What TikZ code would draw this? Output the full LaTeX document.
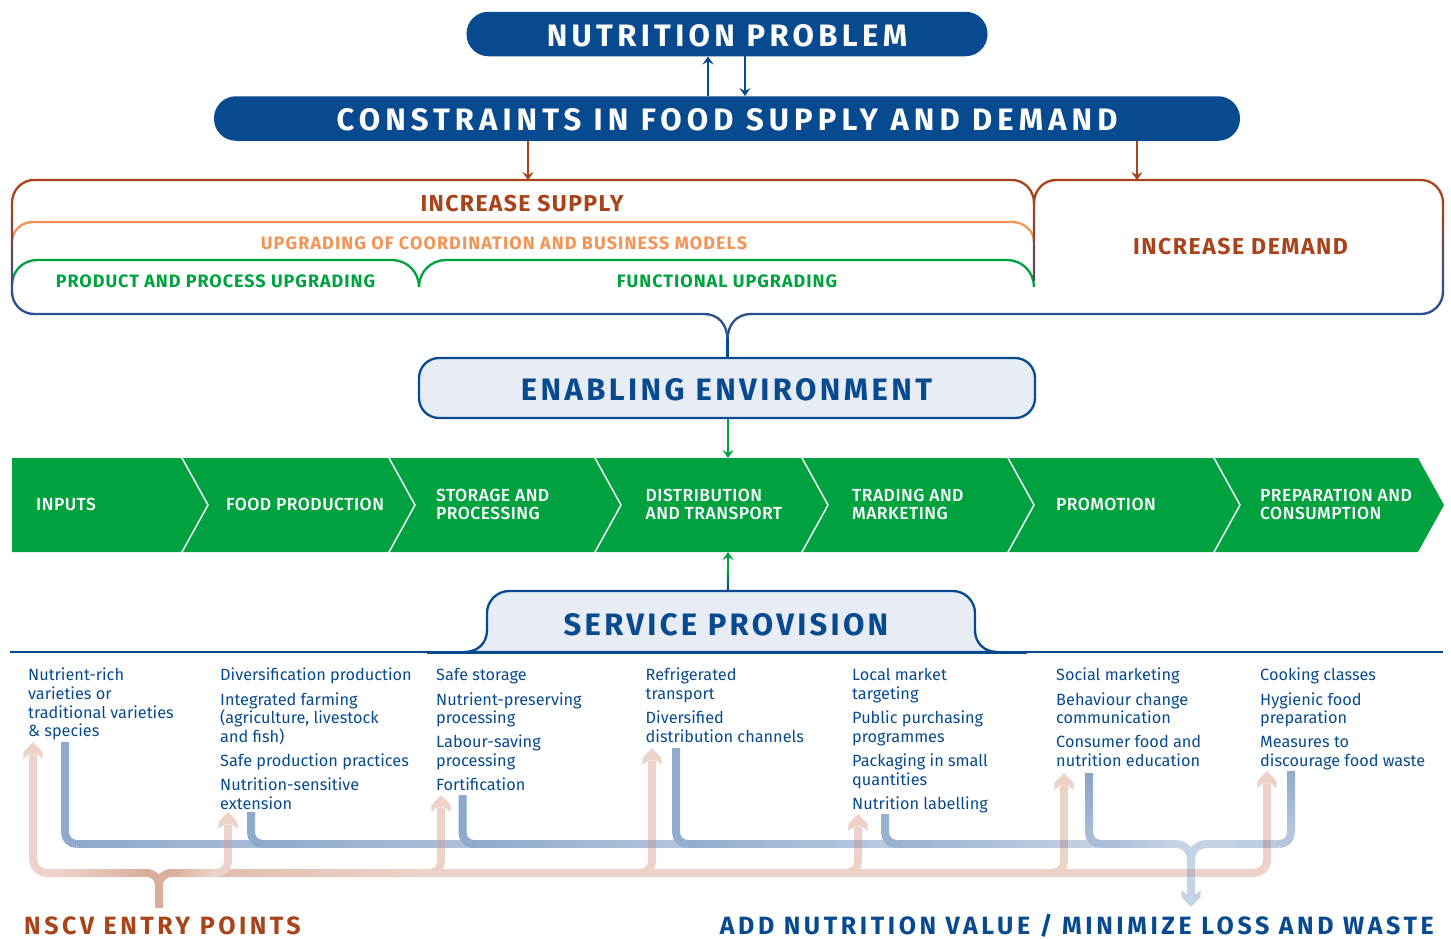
\documentclass[tikz,border=0pt]{standalone}
\usepackage{fontspec}
\setmainfont{Fira Sans}
\newfontfamily\stagefont{Fira Sans Medium}
\usetikzlibrary{arrows.meta,calc}
\definecolor{navy}{HTML}{074A8F}
\definecolor{band}{HTML}{00A13F}
\definecolor{rust}{HTML}{A8431A}
\definecolor{peach}{HTML}{F39455}
\definecolor{panel}{HTML}{E7ECF5}
\definecolor{framenavy}{HTML}{2A4F8F}
\definecolor{pinkpale}{HTML}{ECD2C8}
\definecolor{pinkdark}{HTML}{D9AE9C}
\definecolor{bluepale}{HTML}{C6D3E4}
\definecolor{crossc}{HTML}{B8ADB8}
\definecolor{bluea}{RGB}{141,169,203}
\definecolor{blueb}{RGB}{169,188,215}
\definecolor{bluec}{RGB}{143,171,204}
\definecolor{blued}{RGB}{174,191,217}
\definecolor{bluee}{RGB}{180,196,220}
\definecolor{bluef}{RGB}{147,173,206}
\definecolor{blueg}{RGB}{186,202,224}
\definecolor{blueh}{RGB}{154,178,209}
\definecolor{bluei}{RGB}{135,164,200}
\definecolor{bluej}{RGB}{184,199,221}
\newcommand{\headfont}[2]{\fontsize{#1}{#1}\selectfont\bfseries\addfontfeature{LetterSpace=#2}}
\tikzset{
  x=1pt,y=-1pt,
  pill/.style={fill=navy,rounded corners=22pt,minimum height=44.5pt,inner sep=0pt},
  panelbox/.style={fill=panel,draw=navy,line width=2.3pt,rounded corners=20pt,inner sep=0pt},
  label/.style={inner sep=0pt,anchor=base},
  thinarrow/.style={line width=2.3pt,-{Stealth[length=8pt,width=11pt,inset=3pt]}},
  frameline/.style={line width=2.3pt},
  stage/.style={inner sep=0pt,anchor=west,align=left,text=white,font=\stagefont\fontsize{17.5}{18}\selectfont\addfontfeature{LetterSpace=2.6}},
  items/.style={inner sep=0pt,anchor=north west,align=left,text=navy,font=\fontsize{16.3}{18.7}\selectfont},
  pinkline/.style={draw=pinkpale,line width=8pt},
  blueline/.style={line width=8pt},
}
% arrow head of the wide pale arrows: tip position, colour, direction (1 up, -1 down)
\newcommand{\widehead}[4]{\fill[#3] (#1,#2) -- ++(9.7,#4*10) -- ++(0,#4*7) -- ++(-5.7,-#4*4.5) -- ++(-8,0) -- ++(-5.7,#4*4.5) -- ++(0,-#4*7) -- cycle;}
\begin{document}
\begin{tikzpicture}
\useasboundingbox (0,0) rectangle (1451,938);

% ---- top pills
\node[pill,minimum width=521pt] (np) at (727,34) {};
\node[pill,minimum width=1026pt] (cs) at (727,118.5) {};
\node[label,text=white] (nptext) at (727,46) {\headfont{31}{14}NUTRITION PROBLEM};
\node[label,text=white] (cstext) at (727,130.5) {\headfont{31}{16.4}CONSTRAINTS IN FOOD SUPPLY AND DEMAND};
\coordinate (upx) at (708,76);
\coordinate (downx) at (745,76);
\draw[thinarrow,draw=navy,fill=navy] (upx |- cs.north) -- (upx |- np.south);
\draw[thinarrow,draw=navy,fill=navy] (downx |- np.south) -- (downx |- cs.north);

% ---- frame
\coordinate (supplytop) at (528,180);
\coordinate (demandtop) at (1137,180);
\draw[thinarrow,draw=rust,fill=rust] (supplytop |- cs.south) -- (supplytop);
\draw[thinarrow,draw=rust,fill=rust] (demandtop |- cs.south) -- (demandtop);
\draw[frameline,peach] (12,242) .. controls (12,231) and (21,222) .. (33,222) -- (1012,222) .. controls (1024,222) and (1034,231) .. (1034,242);
\draw[frameline,band] (12,285) .. controls (12,271) and (23,260) .. (37,260) -- (392,260) .. controls (407,260) and (419,272) .. (419,287);
\draw[frameline,band] (419,287) .. controls (419,272) and (431,260) .. (446,260) -- (1007,260) .. controls (1022,260) and (1034,272) .. (1034,287);
\shade[top color=rust,bottom color=framenavy] (10.85,202) rectangle (13.15,293);
\shade[top color=rust,bottom color=framenavy] (1441.85,202) rectangle (1444.15,293);
\shade[top color=rust,bottom color=framenavy!75!rust] (1032.85,202) rectangle (1035.15,280);
\draw[frameline,rust] (12,203) .. controls (12,190) and (22,180) .. (34,180) -- (1012,180) .. controls (1024,180) and (1034,190) .. (1034,203);
\draw[frameline,rust] (1034,203) .. controls (1034,190) and (1044,180) .. (1056,180) -- (1421,180) .. controls (1433,180) and (1443,190) .. (1443,203);
\draw[frameline,framenavy] (12,292) .. controls (12,304) and (22,314) .. (34,314) -- (704,314) .. controls (718,314) and (727.5,324) .. (727.5,340);
\draw[frameline,framenavy] (1443,292) .. controls (1443,304) and (1433,314) .. (1421,314) -- (751,314) .. controls (737,314) and (727.5,324) .. (727.5,340);

\node[label,text=rust] (sup) at (522,211) {\headfont{23}{6}INCREASE SUPPLY};
\node[label,text=peach] (upg) at (504,249) {\headfont{18}{6}UPGRADING OF COORDINATION AND BUSINESS MODELS};
\node[label,text=band] (prod) at (215.5,287) {\headfont{18}{5.4}PRODUCT AND PROCESS UPGRADING};
\node[label,text=band] (func) at (727,287) {\headfont{18}{5.5}FUNCTIONAL UPGRADING};
\node[label,text=rust] (dem) at (1240.5,254) {\headfont{23}{6.7}INCREASE DEMAND};

% ---- enabling environment
\node[panelbox,minimum width=616pt,minimum height=60pt] (en) at (727,388) {};
\node[label,text=navy] (entext) at (726.5,400.5) {\headfont{31}{11.1}ENABLING ENVIRONMENT};
\draw[frameline,navy] (727.5,338) -- (en.north -| 727.5,0);

% ---- value chain band
\fill[band] (12,458) -- (181,458) -- (207,505) -- (181,552) -- (12,552) -- cycle;
\fill[band] (183,458) -- (388,458) -- (414,505) -- (388,552) -- (183,552) -- (209,505) -- cycle;
\fill[band] (390,458) -- (594,458) -- (620,505) -- (594,552) -- (390,552) -- (416,505) -- cycle;
\fill[band] (596,458) -- (801,458) -- (827,505) -- (801,552) -- (596,552) -- (622,505) -- cycle;
\fill[band] (803,458) -- (1007,458) -- (1033,505) -- (1007,552) -- (803,552) -- (829,505) -- cycle;
\fill[band] (1009,458) -- (1213,458) -- (1239,505) -- (1213,552) -- (1009,552) -- (1035,505) -- cycle;
\fill[band] (1215,458) -- (1418,458) -- (1444,505) -- (1418,552) -- (1215,552) -- (1241,505) -- cycle;
\node[stage] (s1) at (36,504) {INPUTS};
\node[stage] (s2) at (226,504) {FOOD PRODUCTION};
\node[stage] (s3) at (436,504) {STORAGE AND\\PROCESSING};
\node[stage] (s4) at (645.5,504) {DISTRIBUTION\\AND TRANSPORT};
\node[stage] (s5) at (852,504) {TRADING AND\\MARKETING};
\node[stage] (s6) at (1056,504) {PROMOTION};
\node[stage] (s7) at (1260,504) {PREPARATION AND\\CONSUMPTION};

\coordinate (entoband) at (728,458);
\coordinate (bandbottom) at (728,552);
\coordinate (sptop) at (728,591);
\draw[thinarrow,draw=band,fill=band] (entoband |- en.south) -- (entoband);
\draw[thinarrow,draw=band,fill=band] (sptop) -- (bandbottom);
\shade[top color=band,bottom color=navy] (726.85,570) rectangle (729.15,591);

% ---- service provision
\draw[line width=2pt,navy] (10,652) -- (1443,652);
\filldraw[fill=panel,draw=navy,line width=2.3pt] (464,652) .. controls (478,652) and (487,643) .. (487,630) -- (487,613) .. controls (487,601) and (497,591) .. (509,591) -- (953,591) .. controls (965,591) and (975,601) .. (975,613) -- (975,630) .. controls (975,643) and (984,652) .. (998,652) -- cycle;
\draw[line width=3pt,navy] (427,652) -- (1027,652);
\node[label,text=navy] (sp) at (726,635.5) {\headfont{31}{10.6}SERVICE PROVISION};

% ---- item columns
\node[items] (c1) at (28,667.5) {\strut Nutrient-rich\\varieties or\\traditional varieties\\\& species};
\node[items] (c2) at (220,667.5) {\strut Diversification production\\[5.5pt]Integrated farming\\(agriculture, livestock\\and fish)\\[5.5pt]Safe production practices\\[5.5pt]Nutrition-sensitive\\extension};
\node[items] (c3) at (436,667.5) {\strut Safe storage\\[5.5pt]Nutrient-preserving\\processing\\[5.5pt]Labour-saving\\processing\\[5.5pt]Fortification};
\node[items] (c4) at (645.5,667.5) {\strut Refrigerated\\transport\\[5.5pt]Diversified\\distribution channels};
\node[items] (c5) at (852,667.5) {\strut Local market\\targeting\\[5.5pt]Public purchasing\\programmes\\[5.5pt]Packaging in small\\quantities\\[5.5pt]Nutrition labelling};
\node[items] (c6) at (1056,667.5) {\strut Social marketing\\[5.5pt]Behaviour change\\communication\\[5.5pt]Consumer food and\\nutrition education};
\node[items] (c7) at (1260,667.5) {\strut Cooking classes\\[5.5pt]Hygienic food\\preparation\\[5.5pt]Measures to\\discourage food waste};

% ---- blue "add value" lines
\shade[left color=bluea,right color=blueb] (77,840.4) rectangle (263,847.6);
\shade[left color=bluec,right color=blued] (263,840.4) rectangle (474,847.6);
\shade[left color=bluec,right color=bluee] (474,840.4) rectangle (688,847.6);
\shade[left color=bluef,right color=blueg] (688,840.4) rectangle (897,847.6);
\shade[left color=blueh,right color=bluepale] (897,840.4) rectangle (1101,847.6);
\shade[left color=blueb,right color=bluepale] (1101,840.4) rectangle (1175,847.6);
\shade[left color=bluepale,right color=blueg] (1207,840.4) rectangle (1279,847.6);

\coordinate (b1) at (65,742);
\coordinate (b2) at (251,812);
\coordinate (b3) at (462.5,795);
\coordinate (b4) at (676,748);
\coordinate (b5) at (885,814);
\coordinate (b6) at (1089,773);
\coordinate (b7) at (1291,771);
\coordinate (btip) at (1191,907);
\draw[blueline,draw=bluea] (b1) -- (65,832) .. controls (65,839) and (70,844) .. (77,844);
\draw[blueline,draw=bluea] (b2) -- (251,832) .. controls (251,839) and (256,844) .. (263,844);
\draw[blueline,draw=bluea] (b3) -- (462.5,832) .. controls (462.5,839) and (467,844) .. (474.5,844);
\draw[blueline,draw=bluef] (b4) -- (676,832) .. controls (676,839) and (681,844) .. (688,844);
\draw[blueline,draw=blueh] (b5) -- (885,832) .. controls (885,839) and (890,844) .. (897,844);
\shade[top color=bluei,bottom color=blueb] (1085,773) rectangle (1093,832);
\draw[blueline,draw=blueb] (1089,832) .. controls (1089,839) and (1094,844) .. (1101,844);
\shade[top color=bluec,bottom color=bluej] (1287,771) rectangle (1295,832);
\draw[blueline,draw=bluej] (1291,832) .. controls (1291,839) and (1286,844) .. (1279,844);
\draw[blueline,draw=bluepale] (1175,844) .. controls (1184,844) and (1191,850) .. (1191,860) -- (1191,896);
\draw[blueline,draw=bluepale] (1207,844) .. controls (1198,844) and (1191,850) .. (1191,860);

% ---- pink entry-point lines
\shade[left color=pinkpale,right color=pinkdark] (60,869.4) rectangle (146,876.6);
\shade[left color=pinkdark,right color=pinkpale] (172,869.4) rectangle (212,876.6);
\shade[left color=pinkdark!60!pinkpale,right color=pinkpale] (212,869.4) rectangle (420,876.6);
\draw[pinkline] (420,873) -- (1255,873);
\coordinate (p1) at (33,755);
\coordinate (p2) at (228,825);
\coordinate (p3) at (441,808);
\coordinate (p4) at (652,761);
\coordinate (p5) at (858,827);
\coordinate (p6) at (1064,786);
\coordinate (p7) at (1267,784);
\coordinate (ptrunk) at (159,908);
\draw[pinkline] (p1) -- (33,858) .. controls (33,867) and (39,873) .. (48,873) -- (60,873);
\draw[pinkline] (p2) -- (228,861) .. controls (228,868) and (223,873) .. (216,873) -- (212,873);
\draw[pinkline] (p3) -- (441,861) .. controls (441,868) and (436,873) .. (429,873);
\draw[pinkline] (p4) -- (652,861) .. controls (652,868) and (647,873) .. (640,873);
\draw[pinkline] (p5) -- (858,861) .. controls (858,868) and (853,873) .. (846,873);
\draw[pinkline] (p6) -- (1064,861) .. controls (1064,868) and (1059,873) .. (1052,873);
\draw[pinkline] (p7) -- (1267,859) .. controls (1267,868) and (1261,873) .. (1252,873);
\draw[pinkline,draw=pinkdark] (146,873) .. controls (154,873) and (159,878) .. (159,886) -- (ptrunk);
\draw[pinkline,draw=pinkdark] (172,873) .. controls (164,873) and (159,878) .. (159,886);
\widehead{33}{742}{pinkpale}{1}
\widehead{228}{812}{pinkpale}{1}
\widehead{441}{795}{pinkpale}{1}
\widehead{652}{748}{pinkpale}{1}
\widehead{858}{814}{pinkpale}{1}
\widehead{1064}{773}{pinkpale}{1}
\widehead{1267}{771}{pinkpale}{1}
\foreach \cx in {228,441,652,858,1064,1267}{\fill[crossc] (\cx-4,840) rectangle (\cx+4,848);}
\fill[crossc!70!bluepale] (1187,869) rectangle (1195,877);
\draw[blueline,draw=bluepale] (1191,877) -- (1191,896);
\widehead{1191}{907}{bluepale}{-1}

\node[inner sep=0pt,anchor=base west,text=rust] (nscv) at (24,934) {\headfont{25}{14}NSCV ENTRY POINTS};
\node[inner sep=0pt,anchor=base east,text=navy] (addv) at (1434,934) {\headfont{25}{14.3}ADD NUTRITION VALUE / MINIMIZE LOSS AND WASTE};
\end{tikzpicture}
\end{document}
